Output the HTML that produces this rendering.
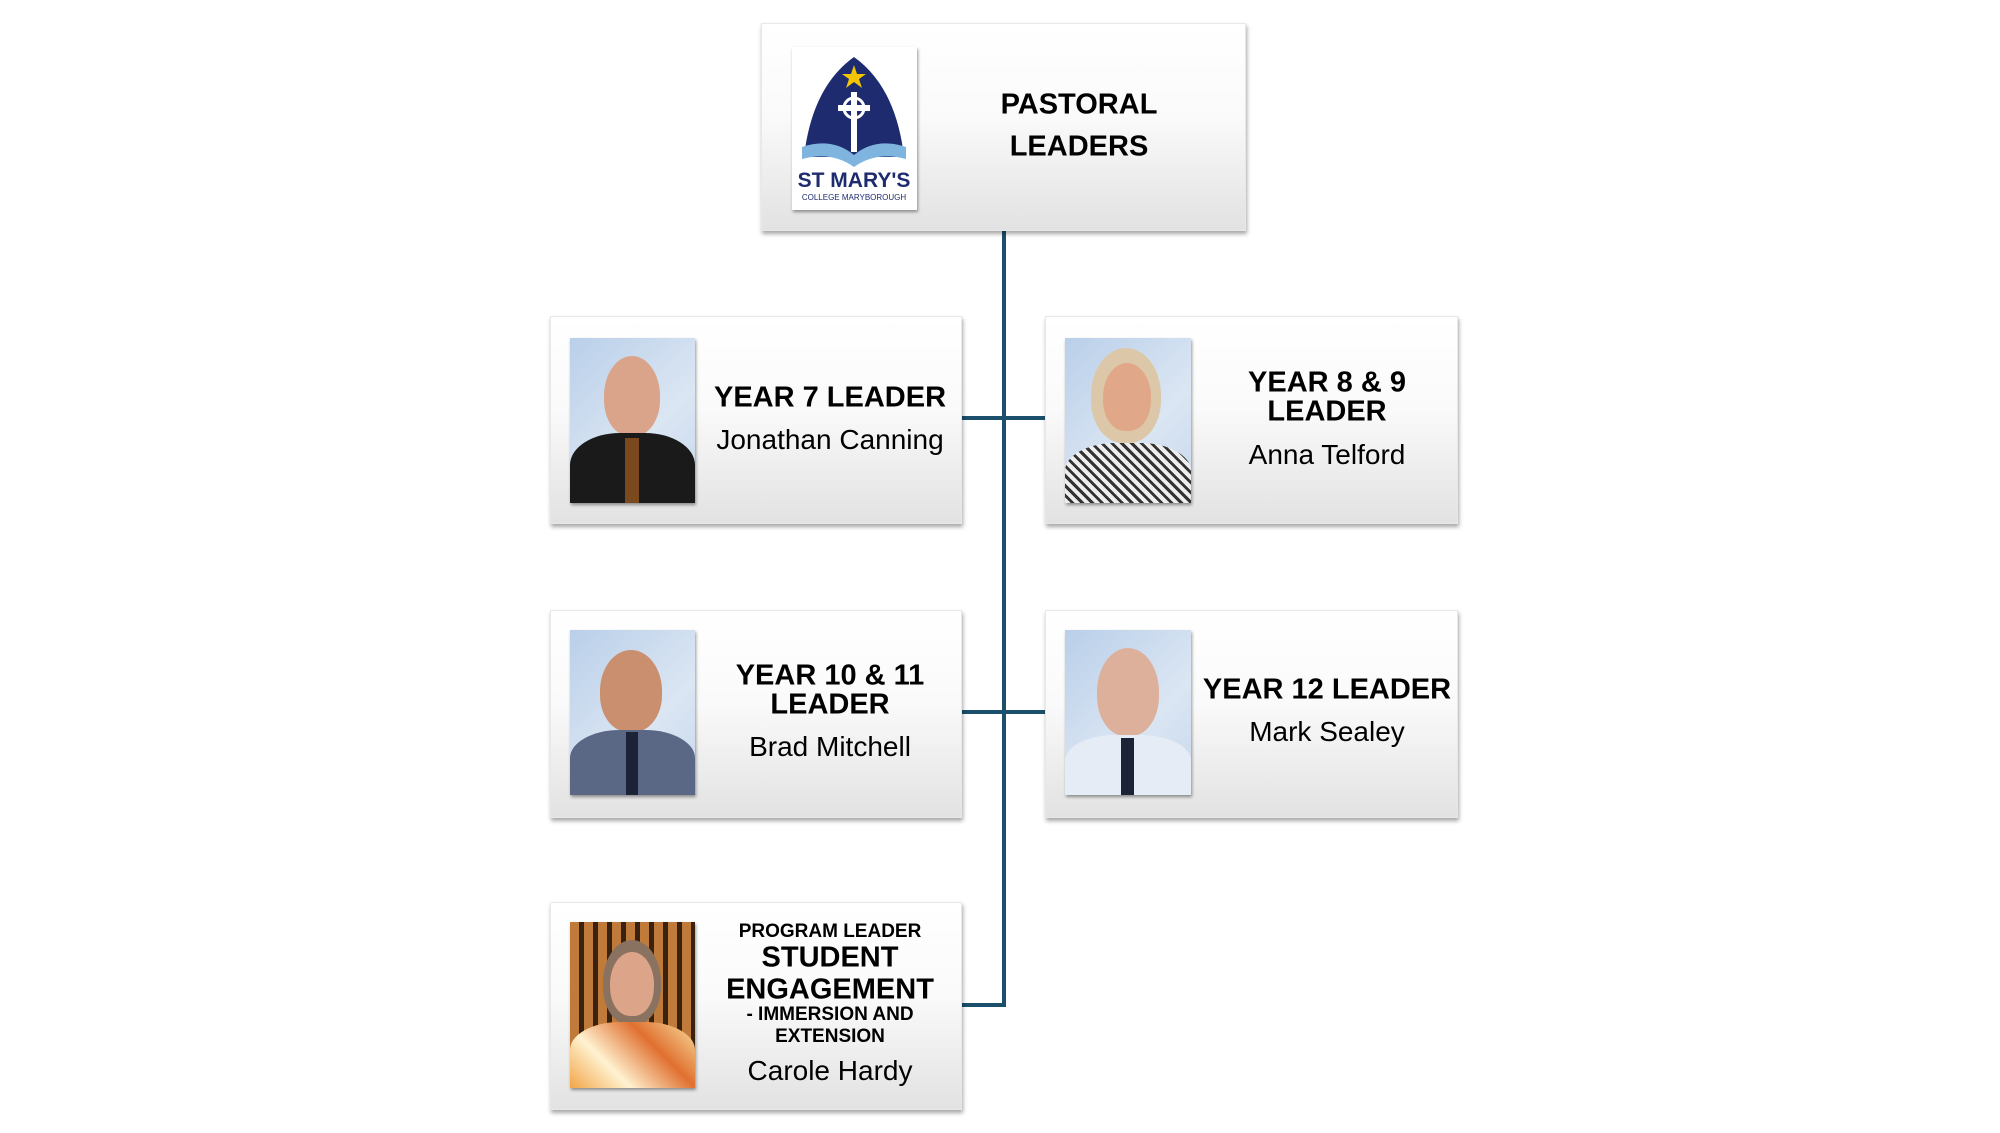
<!DOCTYPE html>
<html><head><meta charset="utf-8"><style>
body{margin:0;width:2000px;height:1133px;background:#fff;position:relative;overflow:hidden;font-family:"Liberation Sans",Arial,sans-serif;}
.box{position:absolute;background:linear-gradient(#fff 0%,#fafafa 45%,#e2e2e2 100%);box-shadow:1px 3px 4px rgba(0,0,0,.35);border:1px solid #e8e8e8;box-sizing:border-box}
.t{position:absolute;transform:translate(-50%,-50%);white-space:nowrap;color:#000;text-align:center}
.b{font-weight:bold;font-size:29px}
.n{font-size:28px}
.s{font-weight:bold;font-size:19px}
.ph{position:absolute;overflow:hidden;background:linear-gradient(135deg,#b9cfe9,#dbe6f3 60%,#c6d7ec);box-shadow:1px 2px 3px rgba(0,0,0,.4)}
.head{position:absolute;border-radius:50% 50% 45% 45%;background:#d7a58a}
.body{position:absolute;border-radius:40% 40% 0 0}
.ln{position:absolute;background:#1b4f6b}
</style></head><body>
<div class="ln" style="left:1002px;top:231px;width:4px;height:776px"></div>
<div class="ln" style="left:962px;top:416px;width:83px;height:4px"></div>
<div class="ln" style="left:962px;top:710px;width:83px;height:4px"></div>
<div class="ln" style="left:962px;top:1003px;width:44px;height:4px"></div>

<div class="box" style="left:761px;top:23px;width:485px;height:208px"></div>
<div class="ph" style="left:792px;top:47px;width:125px;height:163px;background:#fff">
<svg width="125" height="163" viewBox="0 0 125 163"><path d="M62 10 Q20 40 12 110 L112 110 Q104 40 62 10Z" fill="#1e2b6e"/><path d="M10 100 Q40 90 62 108 Q84 90 114 100 L114 112 Q84 104 62 120 Q40 104 10 112Z" fill="#7fb4de"/><polygon points="62,18 65,27 74,27 67,32 70,41 62,35 54,41 57,32 50,27 59,27" fill="#f2c500"/><rect x="59" y="45" width="6" height="60" fill="#fff"/><rect x="46" y="58" width="32" height="6" fill="#fff"/><circle cx="62" cy="61" r="10" fill="none" stroke="#fff" stroke-width="3"/><text x="62" y="140" font-family="Liberation Sans" font-weight="bold" font-size="21" fill="#1e2b6e" text-anchor="middle">ST MARY'S</text><text x="62" y="153" font-family="Liberation Sans" font-size="8" fill="#1e2b6e" text-anchor="middle">COLLEGE MARYBOROUGH</text></svg></div>
<div class="t b" style="left:1079px;top:105px">PASTORAL</div>
<div class="t b" style="left:1079px;top:147px">LEADERS</div>

<!-- Year 7 -->
<div class="box" style="left:550px;top:316px;width:412px;height:208px"></div>
<div class="ph" style="left:570px;top:338px;width:125px;height:165px"><div class="head" style="left:34px;top:18px;width:56px;height:80px;background:#d9a48a"></div><div class="body" style="left:0;top:95px;width:125px;height:80px;background:#1a1a1a"></div><div style="position:absolute;left:55px;top:100px;width:14px;height:70px;background:#7a4a1e"></div></div>
<div class="t b" style="left:830px;top:398px">YEAR 7 LEADER</div>
<div class="t n" style="left:830px;top:440px">Jonathan Canning</div>

<!-- Year 8&9 -->
<div class="box" style="left:1045px;top:316px;width:413px;height:208px"></div>
<div class="ph" style="left:1065px;top:338px;width:126px;height:165px"><div class="head" style="left:26px;top:10px;width:70px;height:95px;background:#dcc8a8"></div><div class="head" style="left:38px;top:25px;width:48px;height:68px;background:#e0a888"></div><div class="body" style="left:0;top:105px;width:126px;height:70px;background:repeating-linear-gradient(45deg,#eee 0 4px,#333 4px 7px)"></div></div>
<div class="t b" style="left:1327px;top:383px">YEAR 8 &amp; 9</div>
<div class="t b" style="left:1327px;top:412px">LEADER</div>
<div class="t n" style="left:1327px;top:455px">Anna Telford</div>

<!-- Year 10&11 -->
<div class="box" style="left:550px;top:610px;width:412px;height:208px"></div>
<div class="ph" style="left:570px;top:630px;width:125px;height:165px"><div class="head" style="left:30px;top:20px;width:62px;height:82px;background:#c98f6e"></div><div class="body" style="left:0;top:100px;width:125px;height:70px;background:#5a6785"></div><div style="position:absolute;left:56px;top:102px;width:12px;height:65px;background:#1c2336"></div></div>
<div class="t b" style="left:830px;top:676px">YEAR 10 &amp; 11</div>
<div class="t b" style="left:830px;top:705px">LEADER</div>
<div class="t n" style="left:830px;top:747px">Brad Mitchell</div>

<!-- Year 12 -->
<div class="box" style="left:1045px;top:610px;width:413px;height:208px"></div>
<div class="ph" style="left:1065px;top:630px;width:126px;height:165px"><div class="head" style="left:32px;top:18px;width:62px;height:88px;background:#dcb09a"></div><div class="body" style="left:0;top:105px;width:126px;height:65px;background:#e6ecf5"></div><div style="position:absolute;left:56px;top:108px;width:13px;height:60px;background:#1c2336"></div></div>
<div class="t b" style="left:1327px;top:690px">YEAR 12 LEADER</div>
<div class="t n" style="left:1327px;top:732px">Mark Sealey</div>

<!-- Program -->
<div class="box" style="left:550px;top:902px;width:412px;height:208px"></div>
<div class="ph" style="left:570px;top:922px;width:125px;height:166px;background:repeating-linear-gradient(90deg,#c07a3a 0 9px,#3a2210 9px 14px)"><div class="head" style="left:33px;top:18px;width:58px;height:85px;background:#8a7260"></div><div class="head" style="left:40px;top:30px;width:44px;height:64px;background:#dca488"></div><div class="body" style="left:0;top:100px;width:125px;height:70px;background:linear-gradient(45deg,#f1a040,#fff2d0,#e07030,#f8e0a0)"></div></div>
<div class="t s" style="left:830px;top:932px">PROGRAM LEADER</div>
<div class="t b" style="left:830px;top:958px">STUDENT</div>
<div class="t b" style="left:830px;top:990px">ENGAGEMENT</div>
<div class="t s" style="left:830px;top:1015px">- IMMERSION AND</div>
<div class="t s" style="left:830px;top:1037px">EXTENSION</div>
<div class="t n" style="left:830px;top:1071px">Carole Hardy</div>
</body></html>
